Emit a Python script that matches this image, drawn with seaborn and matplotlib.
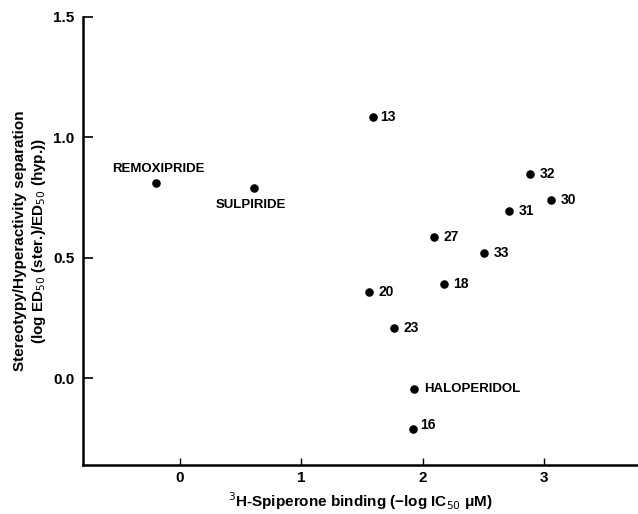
import matplotlib
matplotlib.use("Agg")
import matplotlib.pyplot as plt
import seaborn as sns
import pandas as pd

labels = ["REMOXIPRIDE", "SULPIRIDE", "13", "32", "30", "31", "27", "33",
          "18", "20", "23", "HALOPERIDOL", "16"]
binding = [-0.20, 0.61, 1.59, 2.88, 3.05, 2.71, 2.09, 2.505,
           2.17, 1.555, 1.76, 1.93, 1.92]
separation = [0.81, 0.79, 1.085, 0.85, 0.74, 0.695, 0.585, 0.52,
              0.39, 0.358, 0.21, -0.044, -0.21]

df = pd.DataFrame({"label": labels, "x": binding, "y": separation})

sns.set_theme(style="white")
plt.rcParams['font.family'] = ['Liberation Sans', 'DejaVu Sans']

fig = plt.figure(figsize=(6.38, 5.14), dpi=100)
ax = fig.add_axes([0.1296, 0.095, 0.8704, 0.872])

sns.scatterplot(data=df, x="x", y="y", ax=ax, color="black", s=38,
                edgecolor="black", linewidth=0, legend=False)

offsets = {
    "REMOXIPRIDE": (2, 10, "center", "center"),
    "SULPIRIDE": (-2, -12, "center", "center"),
    "13": (5, 0, "left", "center"),
    "16": (5, 3, "left", "center"),
    "HALOPERIDOL": (7, 0, "left", "center"),
}
for lab, xv, yv in zip(labels, binding, separation):
    dx, dy, ha, va = offsets.get(lab, (7, 0, "left", "center"))
    fs = 9.5 if not lab.isdigit() else 10
    ax.annotate(lab, (xv, yv), xytext=(dx, dy), textcoords="offset points",
                ha=ha, va=va, fontsize=fs, fontweight="bold", color="black")

ax.set_xlim(-0.80, 3.77)
ax.set_ylim(-0.36, 1.5)
ax.set_xticks([0, 1, 2, 3])
ax.set_yticks([0.0, 0.5, 1.0, 1.5])
ax.set_yticklabels(["0.0", "0.5", "1.0", "1.5"])

for side in ["top", "right"]:
    ax.spines[side].set_visible(False)
for side in ["left", "bottom"]:
    ax.spines[side].set_linewidth(1.8)
    ax.spines[side].set_color("black")

ax.tick_params(axis="y", direction="in", length=7, width=1.2, labelsize=11,
               colors="black", left=True, pad=6)
ax.tick_params(axis="x", direction="in", length=5, width=1.0, labelsize=11,
               colors="black", bottom=True, pad=4)
for t in ax.get_xticklabels() + ax.get_yticklabels():
    t.set_fontweight("bold")

ax.set_xlabel("$^{3}$H-Spiperone binding (\u2212log IC$_{50}$ \u03bcM)",
              fontsize=11, fontweight="bold", color="black", labelpad=4)
ax.set_ylabel("Stereotypy/Hyperactivity separation\n(log ED$_{50}$ (ster.)/ED$_{50}$ (hyp.))",
              fontsize=11, fontweight="bold", color="black", labelpad=4)

fig.savefig("out.png", dpi=100, facecolor="white")
